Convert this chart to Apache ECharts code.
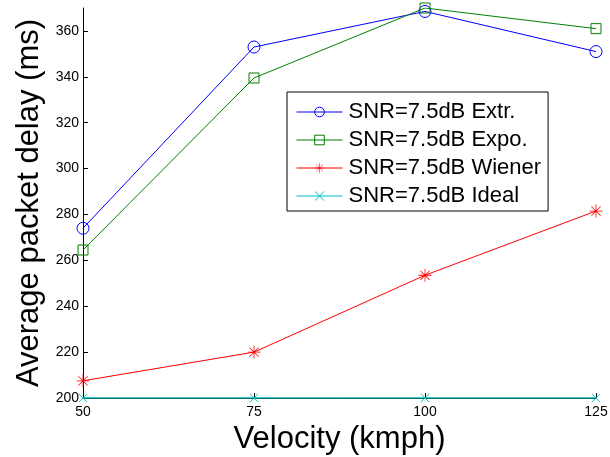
<!DOCTYPE html>
<html>
<head>
<meta charset="utf-8">
<script src="https://cdn.jsdelivr.net/npm/echarts@6/dist/echarts.min.js"></script>
<style>
  html, body { margin: 0; padding: 0; background: #fff; }
  #chart { width: 610px; height: 457px; }
</style>
</head>
<body>
<div id="chart"></div>
<script>
// velocity (kmph) on x, average packet delay (ms) on y
const velocity = [50, 75, 100, 125];
const extr = [274, 353, 368.5, 351];
const expo = [264.5, 339.5, 370, 361];
const wiener = [207.5, 220, 253.5, 281.5];
const ideal = [200, 200, 200, 200];
const seriesNames = ['SNR=7.5dB Extr.', 'SNR=7.5dB Expo.', 'SNR=7.5dB Wiener', 'SNR=7.5dB Ideal'];

// asterisk and x marks built as thin filled bars
const starPath = 'path://M-0.6,-10L0.6,-10L0.6,10L-0.6,10Z M-10,-0.6L10,-0.6L10,0.6L-10,0.6Z ' +
  'M-7.5,-6.7L-6.7,-7.5L7.5,6.7L6.7,7.5Z M6.7,-7.5L7.5,-6.7L-6.7,7.5L-7.5,6.7Z';
const crossPath = 'path://M-7.5,-6.7L-6.7,-7.5L7.5,6.7L6.7,7.5Z M6.7,-7.5L7.5,-6.7L-6.7,7.5L-7.5,6.7Z';

const font = 'Liberation Sans, Arial, sans-serif';

function pairs(vals) {
  return velocity.map((v, i) => [v, vals[i]]);
}

const chart = echarts.init(document.getElementById('chart'));
chart.setOption({
  animation: false,
  backgroundColor: '#fff',
  textStyle: { fontFamily: font },
  grid: { left: 83, right: 14, top: 8, bottom: 59, outerBoundsMode: 'none', containLabel: false },
  legend: {
    orient: 'vertical',
    left: 287,
    top: 92,
    padding: [9, 7, 4, 9],
    itemGap: 6,
    itemWidth: 46,
    itemHeight: 12,
    borderColor: '#000',
    borderWidth: 1,
    borderRadius: 0,
    backgroundColor: '#fff',
    lineStyle: { width: 1 },
    itemStyle: { borderWidth: 1 },
    textStyle: { fontSize: 22, color: '#000', fontFamily: font, padding: [0, 0, 0, 1] },
    data: seriesNames
  },
  xAxis: {
    type: 'value',
    min: 50,
    max: 125,
    interval: 25,
    name: 'Velocity (kmph)',
    nameLocation: 'middle',
    nameGap: 25,
    nameTextStyle: { fontSize: 31, color: '#000', fontFamily: font },
    axisLine: { lineStyle: { color: '#000', width: 1 } },
    axisTick: { inside: true, length: 5, lineStyle: { color: '#000' } },
    axisLabel: { fontSize: 14, color: '#000', margin: 7 },
    splitLine: { show: false }
  },
  yAxis: {
    type: 'value',
    min: 200,
    max: 370,
    interval: 20,
    name: 'Average packet delay (ms)',
    nameLocation: 'middle',
    nameGap: 38,
    nameTextStyle: { fontSize: 31, color: '#000', fontFamily: font },
    axisLine: { show: true, lineStyle: { color: '#000', width: 1 } },
    axisTick: { inside: true, length: 5, lineStyle: { color: '#000' } },
    axisLabel: { fontSize: 14, color: '#000', margin: 4, showMaxLabel: false },
    splitLine: { show: false }
  },
  series: [
    {
      name: seriesNames[0], type: 'line', data: pairs(extr),
      symbol: 'circle', symbolSize: 12,
      lineStyle: { color: '#0000ff', width: 1 },
      itemStyle: { color: 'rgba(255,255,255,0)', borderColor: '#0000ff', borderWidth: 1 },
      color: '#0000ff'
    },
    {
      name: seriesNames[1], type: 'line', data: pairs(expo),
      symbol: 'rect', symbolSize: 10,
      lineStyle: { color: '#008000', width: 1 },
      itemStyle: { color: 'rgba(255,255,255,0)', borderColor: '#008000', borderWidth: 1 },
      color: '#008000'
    },
    {
      name: seriesNames[2], type: 'line', data: pairs(wiener),
      symbol: starPath, symbolSize: 13,
      lineStyle: { color: '#ff0000', width: 1 },
      itemStyle: { color: '#ff0000' },
      color: '#ff0000'
    },
    {
      name: seriesNames[3], type: 'line', data: pairs(ideal),
      symbol: crossPath, symbolSize: 9,
      lineStyle: { color: '#00bfbf', width: 1.5 },
      itemStyle: { color: '#00bfbf' },
      color: '#00bfbf'
    }
  ]
});
</script>
</body>
</html>
